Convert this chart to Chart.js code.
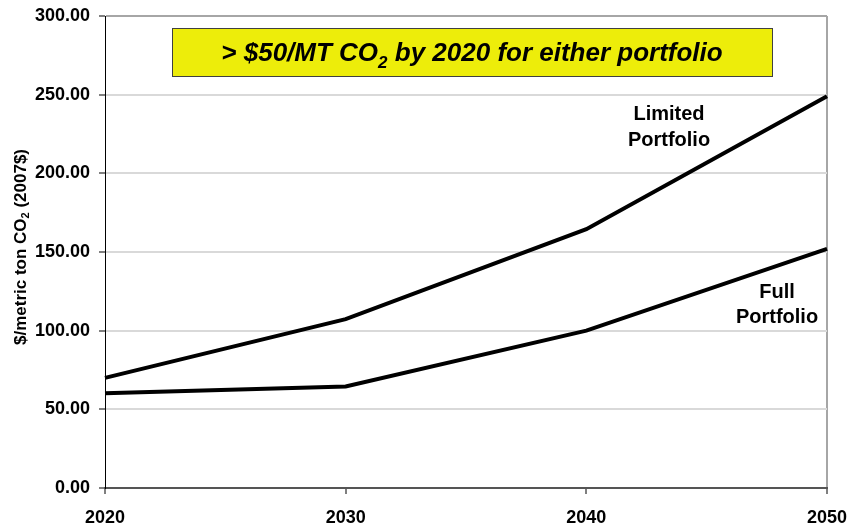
<!DOCTYPE html>
<html>
<head>
<meta charset="utf-8">
<script src="https://cdn.jsdelivr.net/npm/chart.js@4/dist/chart.umd.min.js"></script>
<style>
  html, body { margin: 0; padding: 0; background: #fff; }
  #chart { display: block; }
</style>
</head>
<body>
<canvas id="chart" width="850" height="531"></canvas>
<script>
const years = ['2020', '2030', '2040', '2050'];
const limitedPortfolio = [70, 107.3, 164.5, 249];
const fullPortfolio = [60.2, 64.5, 100, 152];
const yTicks = [0, 50, 100, 150, 200, 250, 300];

const FONT = '"Liberation Sans", Arial, sans-serif';

// yellow callout + line labels
const notes = {
    id: 'notes',
    afterDatasetsDraw(chart) {
        const ctx = chart.ctx;
        const a = chart.chartArea;
        ctx.save();

        // callout box
        const bx = a.left + 67, by = a.top + 12, bw = 600, bh = 48;
        ctx.fillStyle = '#eded0a';
        ctx.fillRect(bx, by, bw, bh);
        ctx.strokeStyle = '#404040';
        ctx.lineWidth = 1;
        ctx.strokeRect(bx + 0.5, by + 0.5, bw, bh);

        const big = 'bold italic 26px ' + FONT;
        const small = 'bold italic 17px ' + FONT;
        const p1 = '> $50/MT CO', p2 = '2', p3 = ' by 2020 for either portfolio';
        ctx.font = big;
        const w1 = ctx.measureText(p1).width, w3 = ctx.measureText(p3).width;
        ctx.font = small;
        const w2 = ctx.measureText(p2).width;
        let tx = bx + bw / 2 - (w1 + w2 + w3) / 2;
        const base = by + 33;
        ctx.fillStyle = '#000';
        ctx.textBaseline = 'alphabetic';
        ctx.textAlign = 'left';
        ctx.font = big;
        ctx.fillText(p1, tx, base);
        tx += w1;
        ctx.font = small;
        ctx.fillText(p2, tx, base + 7);
        tx += w2;
        ctx.font = big;
        ctx.fillText(p3, tx, base);

        // series labels
        ctx.font = 'bold 20px ' + FONT;
        ctx.textAlign = 'center';
        ctx.textBaseline = 'middle';
        ctx.fillText('Limited', a.left + 564, a.top + 98);
        ctx.fillText('Portfolio', a.left + 564, a.top + 124);
        ctx.fillText('Full', a.left + 672, a.top + 276);
        ctx.fillText('Portfolio', a.left + 672, a.top + 301);

        ctx.restore();
    }
};

// y-axis title with subscript
const yTitle = {
    id: 'yTitle',
    afterDraw(chart) {
        const ctx = chart.ctx;
        ctx.save();
        ctx.translate(21, 247);
        ctx.rotate(-Math.PI / 2);
        ctx.fillStyle = '#000';
        ctx.textBaseline = 'middle';
        ctx.textAlign = 'left';
        const big = 'bold 17px ' + FONT, small = 'bold 11px ' + FONT;
        const p1 = '$/metric ton CO', p2 = '2', p3 = ' (2007$)';
        ctx.font = big;
        const w1 = ctx.measureText(p1).width, w3 = ctx.measureText(p3).width;
        ctx.font = small;
        const w2 = ctx.measureText(p2).width;
        let x = -(w1 + w2 + w3) / 2;
        ctx.font = big;
        ctx.fillText(p1, x, 0);
        x += w1;
        ctx.font = small;
        ctx.fillText(p2, x, 5);
        x += w2;
        ctx.font = big;
        ctx.fillText(p3, x, 0);
        ctx.restore();
    }
};

new Chart(document.getElementById('chart').getContext('2d'), {
    type: 'line',
    data: {
        labels: years,
        datasets: [
            {
                label: 'Limited Portfolio',
                data: limitedPortfolio,
                borderColor: '#000',
                borderWidth: 4,
                pointRadius: 0,
                tension: 0,
            },
            {
                label: 'Full Portfolio',
                data: fullPortfolio,
                borderColor: '#000',
                borderWidth: 4,
                pointRadius: 0,
                tension: 0,
            },
        ],
    },
    options: {
        responsive: false,
        animation: false,
        layout: {
            padding: { top: 16, right: 23, left: 0, bottom: 0 },
        },
        plugins: {
            legend: { display: false },
            tooltip: { enabled: false },
        },
        scales: {
            x: {
                type: 'category',
                offset: false,
                afterFit: (s) => {
                    s.height = 43;
                    s.paddingLeft = 0;
                    s.paddingRight = 0;
                },
                ticks: {
                    color: '#000',
                    font: { family: FONT, size: 18, weight: 'bold' },
                    padding: 13,
                    maxRotation: 0,
                },
                grid: {
                    color: (c) => c.index === years.length - 1 ? '#a6a6a6' : 'rgba(0,0,0,0)',
                    lineWidth: 2,
                    tickColor: '#000',
                    tickLength: 6,
                    tickWidth: 1,
                },
                border: { color: '#555', width: 2 },
            },
            y: {
                min: 0,
                max: 300,
                afterFit: (s) => {
                    s.width = 105;
                    s.paddingTop = 0;
                    s.paddingBottom = 0;
                },
                afterBuildTicks: (s) => { s.ticks = yTicks.map((v) => ({ value: v })); },
                ticks: {
                    color: '#000',
                    font: { family: FONT, size: 18, weight: 'bold' },
                    padding: 9,
                    callback: (v) => Number(v).toFixed(2),
                },
                grid: {
                    color: (c) => c.tick && c.tick.value === 300 ? '#a6a6a6' : '#d9d9d9',
                    lineWidth: 2,
                    tickColor: '#808080',
                    tickLength: 6,
                },
                border: { color: '#000', width: 1 },
            },
        },
    },
    plugins: [notes, yTitle],
});
</script>
</body>
</html>
